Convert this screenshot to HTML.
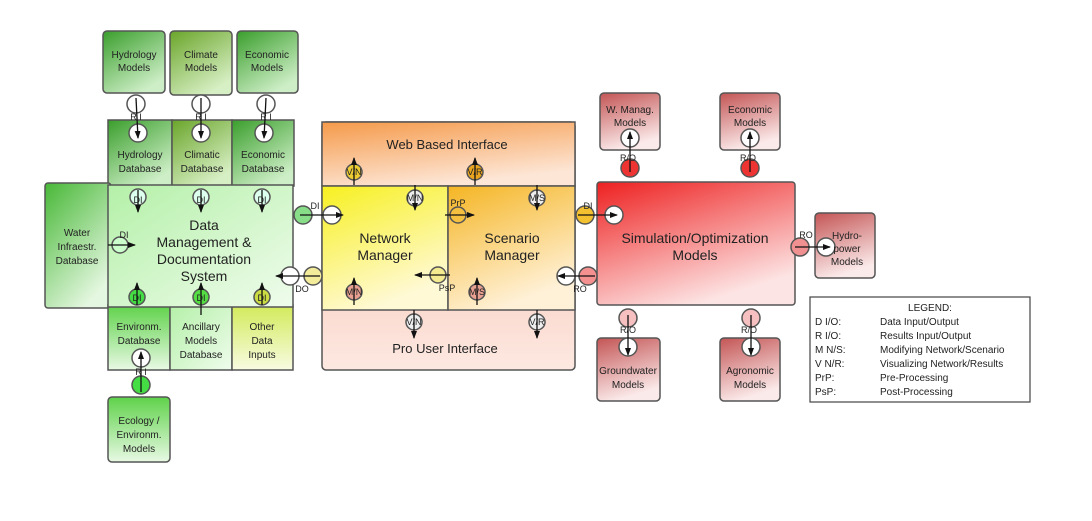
<!DOCTYPE html>
<html><head><meta charset="utf-8"><style>
html,body{margin:0;padding:0;background:#fff;}
svg{display:block;}
text{font-family:"Liberation Sans",sans-serif;fill:#222;}
</style></head><body>
<svg width="1092" height="521" viewBox="0 0 1092 521" xmlns="http://www.w3.org/2000/svg">
<defs>
<linearGradient id="gD" x1="0" y1="0" x2="0.6" y2="1"><stop offset="0" stop-color="#3a9e2c"/><stop offset="1" stop-color="#cdeec6"/></linearGradient>
<linearGradient id="gC" x1="0" y1="0" x2="0.6" y2="1"><stop offset="0" stop-color="#6aa52a"/><stop offset="1" stop-color="#d7efc4"/></linearGradient>
<linearGradient id="gM" x1="0" y1="0" x2="1" y2="1"><stop offset="0" stop-color="#b4f0a8"/><stop offset="1" stop-color="#effcec"/></linearGradient>
<linearGradient id="gW" x1="0" y1="0" x2="0.6" y2="1"><stop offset="0" stop-color="#48b837"/><stop offset="1" stop-color="#e4f7e0"/></linearGradient>
<linearGradient id="gE" x1="0" y1="0" x2="0" y2="1"><stop offset="0" stop-color="#5fd24a"/><stop offset="1" stop-color="#e8f9e4"/></linearGradient>
<linearGradient id="gO" x1="0" y1="0" x2="0" y2="1"><stop offset="0" stop-color="#d2ea5a"/><stop offset="1" stop-color="#f8fbe2"/></linearGradient>
<linearGradient id="gWeb" x1="0" y1="0" x2="0.4" y2="1"><stop offset="0" stop-color="#f59a4a"/><stop offset="1" stop-color="#fde6d6"/></linearGradient>
<linearGradient id="gNet" x1="0" y1="0" x2="0.4" y2="1"><stop offset="0" stop-color="#f7f020"/><stop offset="1" stop-color="#fff9d6"/></linearGradient>
<linearGradient id="gSc" x1="0" y1="0" x2="0.4" y2="1"><stop offset="0" stop-color="#f5b523"/><stop offset="1" stop-color="#fff1d8"/></linearGradient>
<linearGradient id="gPro" x1="0" y1="0" x2="0" y2="1"><stop offset="0" stop-color="#f4b09a"/><stop offset="1" stop-color="#fde9e2"/></linearGradient>
<linearGradient id="gR" x1="0" y1="0" x2="0.5" y2="1"><stop offset="0" stop-color="#ee2020"/><stop offset="1" stop-color="#fde4e4"/></linearGradient>
<linearGradient id="gRm" x1="0" y1="0" x2="0.3" y2="1"><stop offset="0" stop-color="#c45555"/><stop offset="1" stop-color="#fbeaea"/></linearGradient>
<marker id="ah" markerWidth="8" markerHeight="8" refX="7" refY="4" orient="auto" markerUnits="userSpaceOnUse"><path d="M0,1 L8,4 L0,7 z" fill="#111"/></marker>
</defs>
<g stroke="#555" stroke-width="1.5">
<!-- top models -->
<rect x="103" y="31" width="62" height="62" rx="4" fill="url(#gD)"/>
<rect x="170" y="31" width="62" height="64" rx="4" fill="url(#gC)"/>
<rect x="237" y="31" width="61" height="62" rx="4" fill="url(#gD)"/>
<!-- databases -->
<rect x="108" y="120" width="64" height="66" fill="url(#gD)"/>
<rect x="172" y="120" width="60" height="66" fill="url(#gC)"/>
<rect x="232" y="120" width="62" height="66" fill="url(#gD)"/>
<!-- water infra -->
<rect x="45" y="183" width="66" height="125" rx="3" fill="url(#gW)"/>
<!-- bottom dbs -->
<rect x="108" y="305" width="62" height="65" fill="url(#gE)"/>
<rect x="170" y="305" width="62" height="65" fill="url(#gM)"/>
<rect x="232" y="305" width="61" height="65" fill="url(#gO)"/>
<rect x="108" y="397" width="62" height="65" rx="4" fill="url(#gE)"/>
<!-- main DMS -->
<rect x="108" y="185" width="185" height="122" fill="url(#gM)"/>
<!-- middle -->
<rect x="322" y="122" width="253" height="248" rx="4" fill="url(#gPro)"/>
<rect x="322" y="122" width="253" height="64" fill="url(#gWeb)"/>
<rect x="322" y="186" width="126" height="124" fill="url(#gNet)"/>
<rect x="448" y="186" width="127" height="124" fill="url(#gSc)"/>
<!-- red -->
<rect x="597" y="182" width="198" height="123" rx="3" fill="url(#gR)"/>
<rect x="600" y="93" width="60" height="57" rx="4" fill="url(#gRm)"/>
<rect x="720" y="93" width="60" height="57" rx="4" fill="url(#gRm)"/>
<rect x="597" y="338" width="63" height="63" rx="4" fill="url(#gRm)"/>
<rect x="720" y="338" width="60" height="63" rx="4" fill="url(#gRm)"/>
<rect x="815" y="213" width="60" height="65" rx="4" fill="url(#gRm)"/>
<!-- knobs -->
<circle cx="136" cy="104" r="9" fill="#fff"/><circle cx="201" cy="104" r="9" fill="#fff"/><circle cx="266" cy="104" r="9" fill="#fff"/>
<circle cx="138" cy="133" r="9" fill="#fff"/><circle cx="201" cy="133" r="9" fill="#fff"/><circle cx="264" cy="133" r="9" fill="#fff"/>
<circle cx="138" cy="197" r="8" fill="#dfe"/><circle cx="201" cy="197" r="8" fill="#dfe"/><circle cx="262" cy="197" r="8" fill="#dfe"/>
<circle cx="137" cy="297" r="8" fill="#4d4"/><circle cx="201" cy="297" r="8" fill="#5d4"/><circle cx="262" cy="297" r="8" fill="#cd4"/>
<circle cx="141" cy="358" r="9" fill="#fff"/><circle cx="141" cy="385" r="9" fill="#4d4"/>
<circle cx="120" cy="245" r="8" fill="#cfc"/>
<circle cx="303" cy="215" r="9" fill="#8d8"/><circle cx="332" cy="215" r="9" fill="#fff"/>
<circle cx="290" cy="276" r="9" fill="#fff"/><circle cx="313" cy="276" r="9" fill="#f3ec9a"/>
<circle cx="354" cy="172" r="8" fill="#ec3"/><circle cx="475" cy="172" r="8" fill="#e9a520"/>
<circle cx="415" cy="198" r="8" fill="#eee"/><circle cx="537" cy="198" r="8" fill="#eee"/>
<circle cx="458" cy="215" r="8" fill="#f5c040"/><circle cx="438" cy="275" r="8" fill="#f4ea90"/>
<circle cx="354" cy="292" r="8" fill="#e9a090"/><circle cx="477" cy="292" r="8" fill="#e9a090"/>
<circle cx="414" cy="322" r="8" fill="#eee"/><circle cx="537" cy="322" r="8" fill="#eee"/>
<circle cx="585" cy="215" r="9" fill="#f3c030"/><circle cx="614" cy="215" r="9" fill="#fff"/>
<circle cx="566" cy="276" r="9" fill="#fff"/><circle cx="588" cy="276" r="9" fill="#f59090"/>
<circle cx="630" cy="138" r="9" fill="#fff"/><circle cx="750" cy="138" r="9" fill="#fff"/>
<circle cx="630" cy="168" r="9" fill="#e33"/><circle cx="750" cy="168" r="9" fill="#e33"/>
<circle cx="628" cy="318" r="9" fill="#f6c0c0"/><circle cx="751" cy="318" r="9" fill="#f6c0c0"/>
<circle cx="628" cy="347" r="9" fill="#fff"/><circle cx="751" cy="347" r="9" fill="#fff"/>
<circle cx="800" cy="247" r="9" fill="#f09090"/><circle cx="826" cy="247" r="9" fill="#fff"/>
</g>
<g stroke="#111" stroke-width="1.3" marker-end="url(#ah)">
<line x1="136" y1="98" x2="138" y2="138"/><line x1="201" y1="98" x2="201" y2="138"/><line x1="266" y1="98" x2="264" y2="138"/>
<line x1="138" y1="190" x2="138" y2="212"/><line x1="201" y1="190" x2="201" y2="212"/><line x1="262" y1="190" x2="262" y2="212"/>
<line x1="137" y1="305" x2="137" y2="283"/><line x1="201" y1="315" x2="201" y2="283"/><line x1="262" y1="305" x2="262" y2="283"/>
<line x1="141" y1="392" x2="141" y2="352"/>
<line x1="108" y1="245" x2="135" y2="245"/>
<line x1="300" y1="215" x2="343" y2="215"/><line x1="320" y1="276" x2="276" y2="276"/>
<line x1="354" y1="185" x2="354" y2="158"/><line x1="475" y1="185" x2="475" y2="158"/>
<line x1="415" y1="185" x2="415" y2="210"/><line x1="537" y1="185" x2="537" y2="210"/>
<line x1="445" y1="215" x2="474" y2="215"/><line x1="450" y1="275" x2="415" y2="275"/>
<line x1="354" y1="305" x2="354" y2="278"/><line x1="477" y1="305" x2="477" y2="278"/>
<line x1="414" y1="310" x2="414" y2="338"/><line x1="537" y1="310" x2="537" y2="338"/>
<line x1="578" y1="215" x2="617" y2="215"/><line x1="595" y1="276" x2="558" y2="276"/>
<line x1="630" y1="172" x2="630" y2="132"/><line x1="750" y1="172" x2="750" y2="132"/>
<line x1="628" y1="315" x2="628" y2="355"/><line x1="751" y1="315" x2="751" y2="355"/>
<line x1="795" y1="247" x2="830" y2="247"/>
</g>
<g font-size="9" text-anchor="middle">
<text x="136" y="120">R I</text><text x="201" y="120">R I</text><text x="266" y="120">R I</text>
<text x="138" y="203">DI</text><text x="201" y="203">DI</text><text x="262" y="203">DI</text>
<text x="137" y="301">DI</text><text x="201" y="301">DI</text><text x="262" y="301">DI</text>
<text x="141" y="375">R I</text><text x="124" y="238">DI</text>
<text x="315" y="209">DI</text><text x="302" y="292">DO</text>
<text x="354" y="175">V/N</text><text x="475" y="175">V/R</text>
<text x="415" y="201">M/N</text><text x="537" y="201">M/S</text>
<text x="458" y="206">PrP</text><text x="447" y="291">PsP</text>
<text x="354" y="295">M/N</text><text x="477" y="295">M/S</text>
<text x="414" y="325">V/N</text><text x="537" y="325">V/R</text>
<text x="588" y="209">DI</text><text x="580" y="292">RO</text>
<text x="628" y="161">R/O</text><text x="748" y="161">R/O</text>
<text x="628" y="333">R/O</text><text x="749" y="333">R/O</text>
<text x="806" y="238">RO</text>
</g>
<g font-size="10" text-anchor="middle">
<text x="134" y="58">Hydrology</text><text x="134" y="71">Models</text>
<text x="201" y="58">Climate</text><text x="201" y="71">Models</text>
<text x="267" y="58">Economic</text><text x="267" y="71">Models</text>
<text x="140" y="158">Hydrology</text><text x="140" y="172">Database</text>
<text x="202" y="158">Climatic</text><text x="202" y="172">Database</text>
<text x="263" y="158">Economic</text><text x="263" y="172">Database</text>
<text x="77" y="236">Water</text><text x="77" y="250">Infraestr.</text><text x="77" y="264">Database</text>
<text x="139" y="330">Environm.</text><text x="139" y="344">Database</text>
<text x="201" y="330">Ancillary</text><text x="201" y="344">Models</text><text x="201" y="358">Database</text>
<text x="262" y="330">Other</text><text x="262" y="344">Data</text><text x="262" y="358">Inputs</text>
<text x="139" y="424">Ecology /</text><text x="139" y="438">Environm.</text><text x="139" y="452">Models</text>
<text x="630" y="113">W. Manag.</text><text x="630" y="126">Models</text>
<text x="750" y="113">Economic</text><text x="750" y="126">Models</text>
<text x="628" y="374">Groundwater</text><text x="628" y="388">Models</text>
<text x="750" y="374">Agronomic</text><text x="750" y="388">Models</text>
<text x="847" y="239">Hydro-</text><text x="847" y="252">power</text><text x="847" y="265">Models</text>
</g>
<g font-size="14" text-anchor="middle">
<text x="204" y="230">Data</text><text x="204" y="247">Management &amp;</text><text x="204" y="264">Documentation</text><text x="204" y="281">System</text>
<text x="385" y="243">Network</text><text x="385" y="260">Manager</text>
<text x="512" y="243">Scenario</text><text x="512" y="260">Manager</text>
<text x="695" y="243">Simulation/Optimization</text><text x="695" y="260">Models</text>
</g>
<g font-size="13" text-anchor="middle">
<text x="447" y="149">Web Based Interface</text>
<text x="445" y="353">Pro User Interface</text>
</g>
<rect x="810" y="297" width="220" height="105" fill="#fff" stroke="#444" stroke-width="1.2"/>
<g font-size="10">
<text x="930" y="311" text-anchor="middle">LEGEND:</text>
<text x="815" y="325">D I/O:</text><text x="880" y="325">Data Input/Output</text>
<text x="815" y="339">R I/O:</text><text x="880" y="339">Results Input/Output</text>
<text x="815" y="353">M N/S:</text><text x="880" y="353">Modifying Network/Scenario</text>
<text x="815" y="367">V N/R:</text><text x="880" y="367">Visualizing Network/Results</text>
<text x="815" y="381">PrP:</text><text x="880" y="381">Pre-Processing</text>
<text x="815" y="395">PsP:</text><text x="880" y="395">Post-Processing</text>
</g>
</svg>
</body></html>
